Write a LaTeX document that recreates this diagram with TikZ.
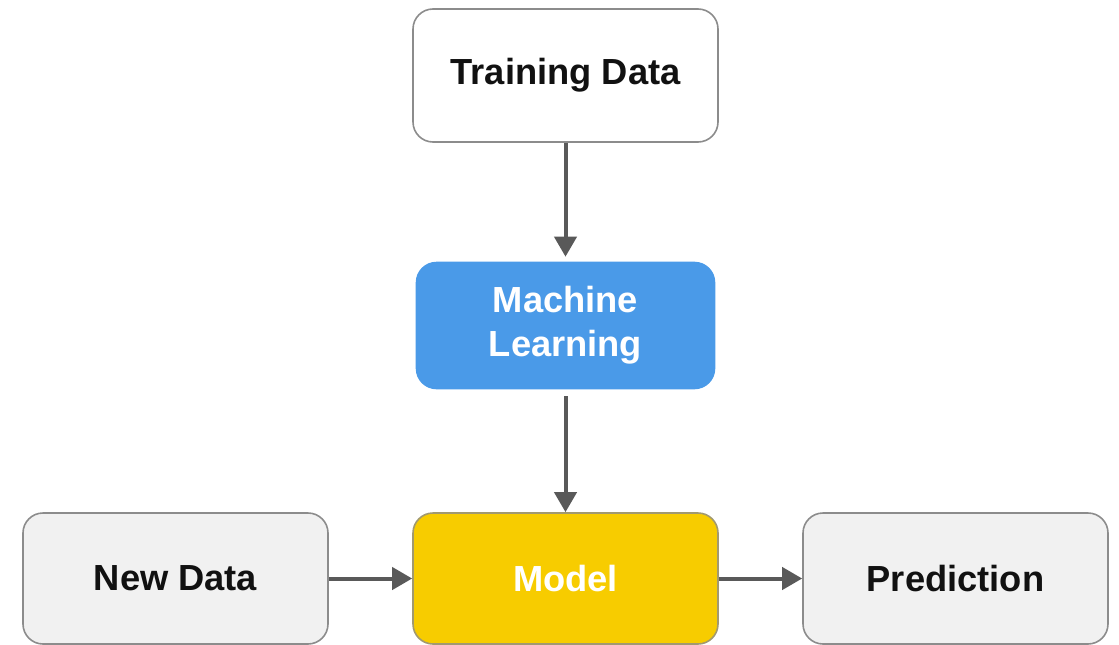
\documentclass[tikz,border=0pt]{standalone}
\usepackage{fontspec}
\setmainfont{Liberation Sans}
\usetikzlibrary{arrows.meta}
\definecolor{edgegray}{HTML}{8C8C8C}
\definecolor{arrowgray}{HTML}{595959}
\definecolor{mlblue}{HTML}{4A9AE8}
\definecolor{modelyellow}{HTML}{F7CC00}
\definecolor{lightfill}{HTML}{F1F1F1}
\definecolor{textblack}{HTML}{111111}
\tikzset{
  box/.style={rectangle, rounded corners=20pt, draw=edgegray, line width=1.6pt,
    minimum width=305pt, minimum height=133pt, inner sep=0pt, align=center,
    font=\fontsize{36.3}{44}\selectfont\bfseries, text=textblack},
  conn/.style={draw=arrowgray, line width=4pt, -{Triangle[length=20pt,width=22pt]}}
}
\begin{document}
\begin{tikzpicture}[x=1pt,y=-1pt]
\useasboundingbox (0,0) rectangle (1119,645);
\node[box, fill=white] (train) at (565.5,75.5) {Training Data};
\node[box, fill=mlblue, draw=mlblue, text=white, minimum width=298pt, minimum height=126pt] (ml) at (565.5,325.5) {Machine\\Learning};
\node[box, fill=modelyellow, draw=edgegray!80!modelyellow, text=white, minimum height=131pt] (model) at (565.5,578.5) {Model};
\node[box, fill=lightfill, minimum height=131pt] (newdata) at (175.5,578.5) {New Data};
\node[box, fill=lightfill, minimum height=131pt] (pred) at (955.5,578.5) {Prediction};
\draw[conn, shorten >=5pt] (train) -- (ml);
\draw[conn, shorten <=7pt] (ml) -- (model);
\draw[conn] (newdata) -- (model);
\draw[conn] (model) -- (pred);
\end{tikzpicture}
\end{document}
